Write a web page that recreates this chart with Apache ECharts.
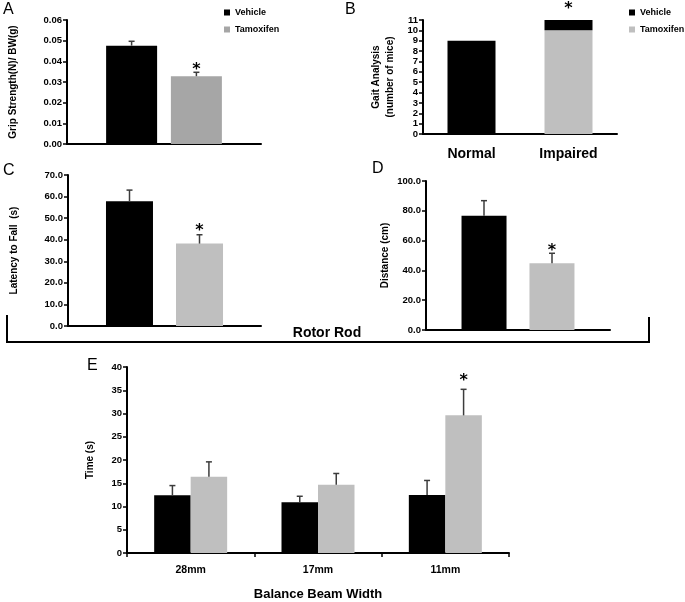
<!DOCTYPE html>
<html><head><meta charset="utf-8">
<script src="https://cdn.jsdelivr.net/npm/echarts@6/dist/echarts.min.js"></script>
<style>html,body{margin:0;padding:0;background:#fff}#c{width:685px;height:602px}</style>
</head><body><div id="c"></div>
<script>
// ---- Data ----
const gripCats = [''];
const gripVehicle = [0.0476];
const gripVehicleTop = [0.0497];
const gripTamox = [0.0328];
const gripTamoxTop = [0.0347];
const gripStar = [true];

const gaitCats = ['Normal', 'Impaired'];
const gaitVehicle = [9, 1];
const gaitTamox = [0, 10];
const gaitStar = [false, true];

const rotorCats = [''];
const latVehicle = [57.8];
const latVehicleTop = [63.0];
const latTamox = [38.2];
const latTamoxTop = [42.3];
const latStar = [true];

const distVehicle = [76.7];
const distVehicleTop = [86.8];
const distTamox = [44.8];
const distTamoxTop = [51.5];
const distStar = [true];

const beamCats = ['28mm', '17mm', '11mm'];
const beamVehicle = [12.4, 10.9, 12.5];
const beamVehicleTop = [14.5, 12.2, 15.6];
const beamTamox = [16.4, 14.7, 29.6];
const beamTamoxTop = [19.6, 17.1, 35.2];
const beamStar = [false, false, true];

// ---- Styles ----
const FONT = '"Liberation Sans", Arial, sans-serif';
const BLACK = '#000000';
const GRAY_A = '#a6a6a6';
const GRAY = '#bfbfbf';
const ERR = '#3c3c3c';

const chart = echarts.init(document.getElementById('c'));

function yAx(grid, min, max, interval, name, gap, dec, fs) {
  return {
    type: 'value', gridIndex: grid, min: min, max: max, interval: interval,
    name: name, nameLocation: 'middle', nameGap: gap, nameRotate: 90,
    nameTextStyle: {fontFamily: FONT, fontWeight: 'bold', fontSize: 10, color: BLACK, lineHeight: 14},
    axisLine: {show: true, lineStyle: {color: BLACK, width: 2}},
    axisTick: {show: true, length: 4, lineStyle: {color: BLACK, width: 1.5}},
    axisLabel: {fontFamily: FONT, fontWeight: 'bold', fontSize: fs || 9.5, color: BLACK, margin: 5,
      formatter: v => v.toFixed(dec)},
    splitLine: {show: false}
  };
}
function xAxPlain(grid, cats) {
  return {
    type: 'category', gridIndex: grid, data: cats,
    axisLine: {lineStyle: {color: BLACK, width: 2}},
    axisTick: {show: false}, axisLabel: {show: false}
  };
}
function errSeries(xi, yi, means, tops, stars, offset, starGap) {
  const data = means.map((m, i) => [i, m, tops[i], stars[i] ? 1 : 0]);
  return {
    type: 'custom', xAxisIndex: xi, yAxisIndex: yi, data: data, z: 5, silent: true,
    renderItem: function (params, api) {
      const base = api.coord([api.value(0), api.value(1)]);
      const top = api.coord([api.value(0), api.value(2)]);
      const x = base[0] + offset;
      const children = [
        {type: 'line', shape: {x1: x, y1: base[1], x2: x, y2: top[1]}, style: {stroke: ERR, lineWidth: 1.5}},
        {type: 'line', shape: {x1: x - 3, y1: top[1], x2: x + 3, y2: top[1]}, style: {stroke: ERR, lineWidth: 1.5}}
      ];
      if (api.value(3)) {
        children.push({type: 'text', style: {text: '*', x: x, y: top[1] - starGap, textAlign: 'center',
          textVerticalAlign: 'bottom', fontSize: 16, fontWeight: 'bold', fontFamily: 'DejaVu Sans', fill: BLACK}});
      }
      return {type: 'group', children: children};
    }
  };
}
function legend(left, gray) {
  return {
    left: left, top: 3, orient: 'vertical', itemWidth: 6, itemHeight: 6, itemGap: 8, selectedMode: false,
    icon: 'rect',
    textStyle: {fontFamily: FONT, fontWeight: 'bold', fontSize: 9, color: BLACK},
    data: [{name: 'Vehicle', itemStyle: {color: BLACK}}, {name: 'Tamoxifen', itemStyle: {color: gray}}]
  };
}

const option = {
  animation: false,
  backgroundColor: '#fff',
  textStyle: {fontFamily: FONT},
  legend: [legend(219, GRAY_A), legend(624, GRAY)],
  grid: [
    {left: 67, top: 20, width: 194, height: 124},
    {left: 423, top: 20, width: 194, height: 114},
    {left: 68, top: 175, width: 193, height: 151},
    {left: 426, top: 181, width: 184, height: 149},
    {left: 127, top: 367, width: 382, height: 188}
  ],
  xAxis: [
    xAxPlain(0, gripCats),
    {type: 'category', gridIndex: 1, data: gaitCats,
      axisLine: {lineStyle: {color: BLACK, width: 2}}, axisTick: {show: false},
      axisLabel: {fontFamily: FONT, fontWeight: 'bold', fontSize: 14, color: BLACK, margin: 13}},
    xAxPlain(2, rotorCats),
    xAxPlain(3, rotorCats),
    {type: 'category', gridIndex: 4, data: beamCats,
      name: 'Balance Beam Width', nameLocation: 'middle', nameGap: 35,
      nameTextStyle: {fontFamily: FONT, fontWeight: 'bold', fontSize: 13, color: BLACK},
      axisLine: {lineStyle: {color: BLACK, width: 2}},
      axisTick: {show: true, length: 4, lineStyle: {color: BLACK, width: 1.5}},
      axisLabel: {fontFamily: FONT, fontWeight: 'bold', fontSize: 10.5, color: BLACK, margin: 12}}
  ],
  yAxis: [
    yAx(0, 0, 0.06, 0.01, 'Grip Strength(N)/ BW(g)', 47, 2),
    yAx(1, 0, 11, 1, 'Gait Analysis\n(number of mice)', 26, 0),
    yAx(2, 0, 70, 10, 'Latency to Fall  (s)', 47, 1),
    yAx(3, 0, 100, 20, 'Distance (cm)', 34, 1),
    yAx(4, 0, 40, 5, 'Time (s)', 30, 0, 9.5)
  ],
  series: [
    // A
    {name: 'Vehicle', type: 'bar', xAxisIndex: 0, yAxisIndex: 0, data: gripVehicle, barWidth: 51, barGap: '27%', itemStyle: {color: BLACK}},
    {name: 'Tamoxifen', type: 'bar', xAxisIndex: 0, yAxisIndex: 0, data: gripTamox, barWidth: 51, barGap: '27%', itemStyle: {color: GRAY_A}},
    errSeries(0, 0, gripVehicle, gripVehicleTop, [false], -32.4, 3),
    errSeries(0, 0, gripTamox, gripTamoxTop, gripStar, 32.4, -6),
    // B
    {name: 'Tamoxifen', type: 'bar', xAxisIndex: 1, yAxisIndex: 1, stack: 'gait', data: gaitTamox, barWidth: 48, itemStyle: {color: GRAY}},
    {name: 'Vehicle', type: 'bar', xAxisIndex: 1, yAxisIndex: 1, stack: 'gait', barWidth: 48, itemStyle: {color: BLACK},
      data: gaitVehicle.map((v, i) => ({value: v, label: {show: gaitStar[i], position: 'top', distance: 3, formatter: '*',
        fontSize: 16, fontWeight: 'bold', fontFamily: 'DejaVu Sans', color: BLACK}}))},
    // C
    {name: 'Vehicle', type: 'bar', xAxisIndex: 2, yAxisIndex: 2, data: latVehicle, barWidth: 47, barGap: '49%', itemStyle: {color: BLACK}},
    {name: 'Tamoxifen', type: 'bar', xAxisIndex: 2, yAxisIndex: 2, data: latTamox, barWidth: 47, barGap: '49%', itemStyle: {color: GRAY}},
    errSeries(2, 2, latVehicle, latVehicleTop, [false], -35, 3),
    errSeries(2, 2, latTamox, latTamoxTop, latStar, 35, -4),
    // D
    {name: 'Vehicle', type: 'bar', xAxisIndex: 3, yAxisIndex: 3, data: distVehicle, barWidth: 45, barGap: '51%', itemStyle: {color: BLACK}},
    {name: 'Tamoxifen', type: 'bar', xAxisIndex: 3, yAxisIndex: 3, data: distTamox, barWidth: 45, barGap: '51%', itemStyle: {color: GRAY}},
    errSeries(3, 3, distVehicle, distVehicleTop, [false], -34, 3),
    errSeries(3, 3, distTamox, distTamoxTop, distStar, 34, -6),
    // E
    {name: 'Vehicle', type: 'bar', xAxisIndex: 4, yAxisIndex: 4, data: beamVehicle, barWidth: 36.5, barGap: '0%', itemStyle: {color: BLACK}},
    {name: 'Tamoxifen', type: 'bar', xAxisIndex: 4, yAxisIndex: 4, data: beamTamox, barWidth: 36.5, barGap: '0%', itemStyle: {color: GRAY}},
    errSeries(4, 4, beamVehicle, beamVehicleTop, [false, false, false], -18.25, 3),
    errSeries(4, 4, beamTamox, beamTamoxTop, beamStar, 18.25, 0)
  ],
  graphic: [
    {type: 'text', left: 3, top: 2, style: {text: 'A', fontSize: 16, fontFamily: 'Liberation Sans', fill: BLACK}},
    {type: 'text', left: 345, top: 2, style: {text: 'B', fontSize: 16, fontFamily: 'Liberation Sans', fill: BLACK}},
    {type: 'text', left: 3, top: 163, style: {text: 'C', fontSize: 16, fontFamily: 'Liberation Sans', fill: BLACK}},
    {type: 'text', left: 372, top: 161, style: {text: 'D', fontSize: 16, fontFamily: 'Liberation Sans', fill: BLACK}},
    {type: 'text', left: 87, top: 358, style: {text: 'E', fontSize: 16, fontFamily: 'Liberation Sans', fill: BLACK}},
    {type: 'polyline', shape: {points: [[7, 315], [7, 342], [649, 342], [649, 317]]}, style: {stroke: BLACK, lineWidth: 2, fill: null}},
    {type: 'text', x: 327, y: 333, style: {text: 'Rotor Rod', textAlign: 'center', textVerticalAlign: 'middle',
      fontSize: 14, fontWeight: 'bold', fontFamily: FONT, fill: BLACK}}
  ]
};
chart.setOption(option);
</script></body></html>
